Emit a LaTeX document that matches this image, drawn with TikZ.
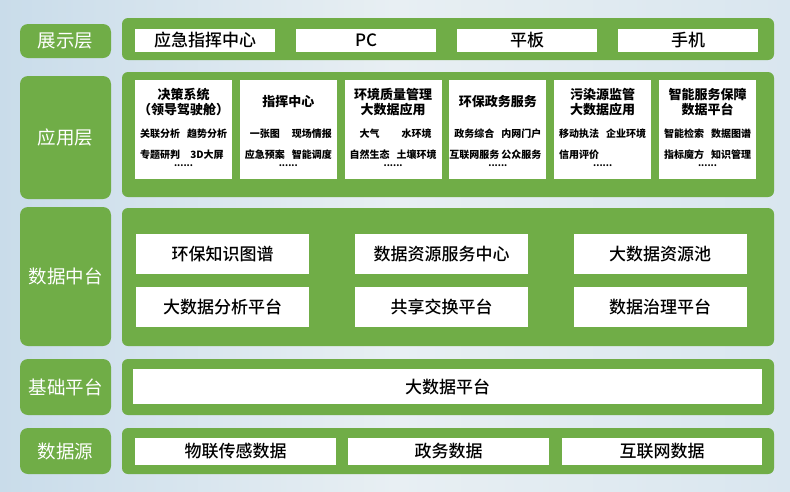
\documentclass[tikz,border=0pt]{standalone}
\usepackage{fontspec}
\newfontfamily\cjk{Noto Sans CJK SC}
\newfontfamily\cjkm{Noto Sans CJK SC Medium}
\definecolor{grn}{HTML}{70AD47}
\definecolor{bgA}{HTML}{C9DCEA}
\definecolor{bgB}{HTML}{E8EFF3}
\definecolor{bgC}{HTML}{D9E6EF}
\begin{document}
\begin{tikzpicture}[x=1pt,y=-1pt,
 lab/.style={fill=grn, rounded corners=8pt, text=white, font=\cjk\fontsize{18.5}{19}\selectfont, inner sep=0pt, minimum width=91pt},
 panel/.style={fill=grn, rounded corners=6pt, inner sep=0pt, minimum width=652pt},
 wbox/.style={fill=white, inner sep=0pt, font=\cjkm\fontsize{17}{18}\selectfont},
 appbox/.style={fill=white, inner sep=0pt, minimum width=97pt, minimum height=99pt},
 apptitle/.style={font=\cjk\bfseries\fontsize{13}{15}\selectfont, align=center, inner sep=0pt},
 item/.style={font=\cjk\bfseries\fontsize{10}{10}\selectfont, inner sep=0pt},
 dots/.style={font=\cjk\bfseries\fontsize{9}{9}\selectfont, inner sep=0pt}]
\shade[left color=bgA, right color=bgC, middle color=bgB] (0,0) rectangle (790,491);
\useasboundingbox (0,0) rectangle (790,491);

% left labels
\node[lab, minimum height=34pt] (l1) at (65.5,41) {展示层};
\node[lab, minimum height=123pt] (l2) at (65.5,137.5) {应用层};
\node[lab, minimum height=139pt] (l3) at (65.5,276.5) {数据中台};
\node[lab, minimum height=56pt] (l4) at (65.5,387) {基础平台};
\node[lab, minimum height=46pt] (l5) at (65.5,451) {数据源};

% panels
\node[panel, minimum height=42pt] (p1) at (448,39) {};
\node[panel, minimum height=125pt] (p2) at (448,134.5) {};
\node[panel, minimum height=138pt] (p3) at (448,277) {};
\node[panel, minimum height=56pt] (p4) at (448,387) {};
\node[panel, minimum height=46pt] (p5) at (448,451) {};

% display layer
\node[wbox, minimum width=140pt, minimum height=23pt] (d1) at (205,40.5) {应急指挥中心};
\node[wbox, minimum width=140pt, minimum height=23pt] (d2) at (366,40.5) {PC};
\node[wbox, minimum width=140pt, minimum height=23pt] (d3) at (527,40.5) {平板};
\node[wbox, minimum width=140pt, minimum height=23pt] (d4) at (688,40.5) {手机};

% application layer
\foreach \i in {0,...,5} {
  \node[appbox] (a\i) at ({183.5+\i*104.8},129.5) {};
}
\node[apptitle] (t0) at (a0.center |- 0,102) {决策系统\\（领导驾驶舱）};
\node[apptitle] (t1) at (a1.center |- 0,102) {指挥中心};
\node[apptitle] (t2) at (a2.center |- 0,102) {环境质量管理\\大数据应用};
\node[apptitle] (t3) at (a3.center |- 0,102) {环保政务服务};
\node[apptitle] (t4) at (a4.center |- 0,102) {污染源监管\\大数据应用};
\node[apptitle] (t5) at (a5.center |- 0,102) {智能服务保障\\数据平台};

\newcommand\appitems[5]{%
  \node[item] (#1a) at ([xshift=-23.5pt]#1.center |- 0,134) {#2};
  \node[item] (#1b) at ([xshift=23.5pt]#1.center |- 0,134) {#3};
  \node[item] (#1c) at ([xshift=-23.5pt]#1.center |- 0,155) {#4};
  \node[item] (#1d) at ([xshift=23.5pt]#1.center |- 0,155) {#5};
  \node[dots] (#1e) at (#1.center |- 0,166) {......};
}
\appitems{a0}{关联分析}{趋势分析}{专题研判}{3D大屏}
\appitems{a1}{一张图}{现场情报}{应急预案}{智能调度}
\appitems{a2}{大气}{水环境}{自然生态}{土壤环境}
\appitems{a3}{政务综合}{内网门户}{互联网服务}{公众服务}
\appitems{a4}{移动执法}{企业环境}{信用评价}{}
\appitems{a5}{智能检索}{数据图谱}{指标魔方}{知识管理}

% data middle platform
\node[wbox, minimum width=173pt, minimum height=40pt] (m1) at (222.5,254) {环保知识图谱};
\node[wbox, minimum width=173pt, minimum height=40pt] (m2) at (441.5,254) {数据资源服务中心};
\node[wbox, minimum width=173pt, minimum height=40pt] (m3) at (660,254) {大数据资源池};
\node[wbox, minimum width=173pt, minimum height=40pt] (m4) at (222.5,307) {大数据分析平台};
\node[wbox, minimum width=173pt, minimum height=40pt] (m5) at (441.5,307) {共享交换平台};
\node[wbox, minimum width=173pt, minimum height=40pt] (m6) at (660,307) {数据治理平台};

% base platform
\node[wbox, minimum width=629pt, minimum height=35pt] (b1) at (447.5,386.5) {大数据平台};

% data sources
\node[wbox, minimum width=201pt, minimum height=27pt] (s1) at (235.5,451.5) {物联传感数据};
\node[wbox, minimum width=201pt, minimum height=27pt] (s2) at (448.5,451.5) {政务数据};
\node[wbox, minimum width=200pt, minimum height=27pt] (s3) at (662,451.5) {互联网数据};
\end{tikzpicture}
\end{document}
